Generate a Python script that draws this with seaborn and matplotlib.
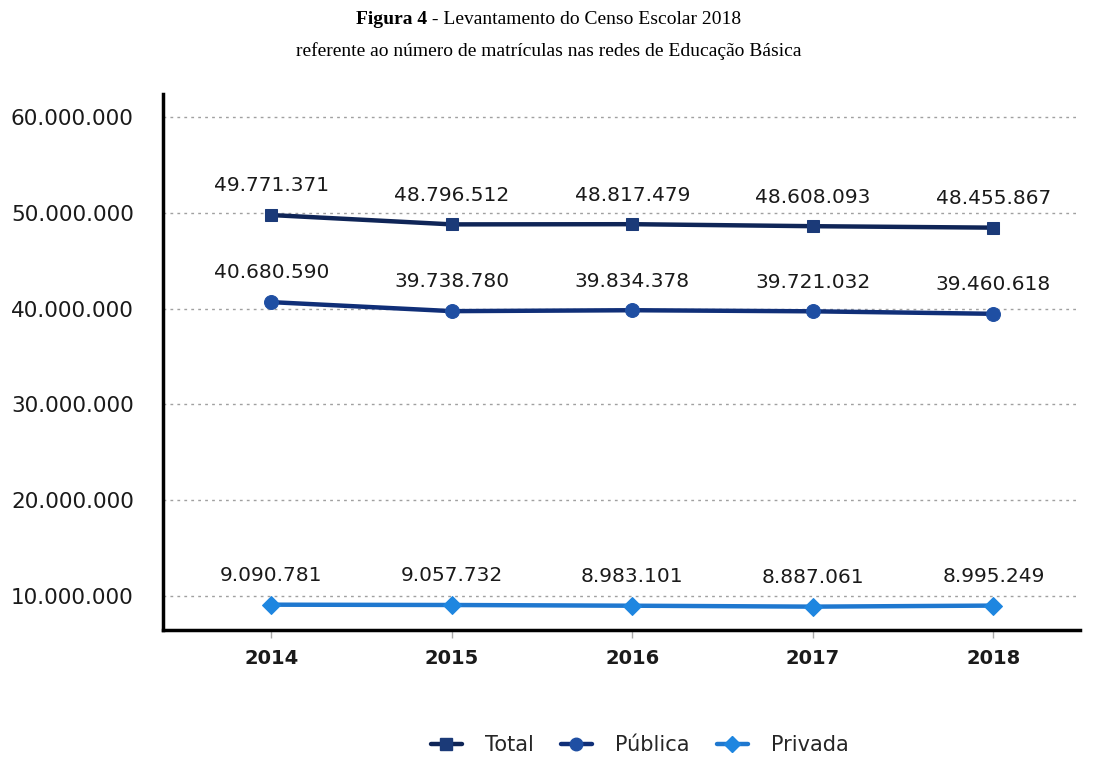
import matplotlib
matplotlib.use("Agg")
import matplotlib.pyplot as plt
import seaborn as sns
import pandas as pd
from matplotlib.ticker import FuncFormatter, FixedLocator
from matplotlib.lines import Line2D

years = [2014, 2015, 2016, 2017, 2018]
total = [49771371, 48796512, 48817479, 48608093, 48455867]
publica = [40680590, 39738780, 39834378, 39721032, 39460618]
privada = [9090781, 9057732, 8983101, 8887061, 8995249]
series_names = ["Total", "Pública", "Privada"]
y_ticks = [10000000, 20000000, 30000000, 40000000, 50000000, 60000000]

title_line1_bold = "Figura 4"
title_line1_rest = " - Levantamento do Censo Escolar 2018"
title_line2 = "referente ao número de matrículas nas redes de Educação Básica"

sns.set_theme(style="white")
plt.rcParams['font.family'] = ['DejaVu Sans']

df = pd.DataFrame({
    "ano": years * 3,
    "valor": total + publica + privada,
    "serie": [series_names[0]] * 5 + [series_names[1]] * 5 + [series_names[2]] * 5,
})

fig = plt.figure(figsize=(10.97, 7.65), dpi=100)
ax = fig.add_axes([0.1486, 0.1765, 0.8359, 0.7005])

styles = {
    "Total": dict(line="#0f2557", mk="#1b3a78", marker="s", ms=9),
    "Pública": dict(line="#102f78", mk="#1f4fa3", marker="o", ms=10),
    "Privada": dict(line="#1f78cf", mk="#1e86e0", marker="D", ms=9),
}

for name in series_names:
    st = styles[name]
    sub = df[df["serie"] == name]
    sns.lineplot(data=sub, x="ano", y="valor", ax=ax, color=st["line"], linewidth=3.2,
                 marker=st["marker"], markersize=st["ms"], markerfacecolor=st["mk"],
                 markeredgecolor=st["mk"], legend=False, zorder=3)
    for x, v in zip(sub["ano"], sub["valor"]):
        label = f"{v:,}".replace(",", ".")
        ax.annotate(label, (x, v), xytext=(0, 21), textcoords="offset points",
                    ha="center", va="center", fontsize=14.5, color="#1a1a1a")

ax.set_xlim(2013.4, 2018.48)
ax.set_ylim(6450000, 62400000)
ax.yaxis.set_major_locator(FixedLocator(y_ticks))
ax.yaxis.set_major_formatter(FuncFormatter(lambda v, p: f"{int(v):,}".replace(",", ".")))
ax.set_xticks(years)
ax.set_xticklabels([str(y) for y in years], fontweight="bold", fontsize=14, color="#1a1a1a")
for lab in ax.get_yticklabels():
    lab.set_fontsize(15.5)
    lab.set_color("#1a1a1a")

ax.grid(axis="y", linestyle=(0, (2, 3)), color="#a0a0a0", linewidth=1)
ax.grid(axis="x", visible=False)
ax.set_xlabel("")
ax.set_ylabel("")
for s in ["top", "right"]:
    ax.spines[s].set_visible(False)
ax.spines["left"].set_color("black")
ax.spines["left"].set_linewidth(2.5)
ax.spines["bottom"].set_color("black")
ax.spines["bottom"].set_linewidth(2.5)
ax.tick_params(axis="x", bottom=True, length=6, width=1, color="#aaaaaa", pad=8)
ax.tick_params(axis="y", left=False, pad=15)

handles = []
for name in series_names:
    st = styles[name]
    handles.append(Line2D([0], [0], color=st["line"], linewidth=3.2, marker=st["marker"],
                          markersize=st["ms"] - 1, markerfacecolor=st["mk"], markeredgecolor=st["mk"]))
fig.legend(handles, series_names, loc="center", bbox_to_anchor=(0.583, 0.026), ncol=3,
           frameon=False, fontsize=15, handlelength=1.5, columnspacing=1.3, handletextpad=1.1)

renderer = fig.canvas.get_renderer()
tb = fig.text(0, 0.974, title_line1_bold, fontweight="bold", fontsize=14,
              family=["Liberation Serif"], va="center", color="black")
tr = fig.text(0, 0.974, title_line1_rest, fontsize=14, family=["Liberation Serif"],
              va="center", color="black")
wb = tb.get_window_extent(renderer).width / fig.bbox.width
wr = tr.get_window_extent(renderer).width / fig.bbox.width
start = 0.5 - (wb + wr) / 2
tb.set_x(start)
tr.set_x(start + wb)
fig.text(0.5, 0.933, title_line2, ha="center", va="center", fontsize=14,
         family=["Liberation Serif"], color="black")

fig.savefig("out.png", dpi=100)
